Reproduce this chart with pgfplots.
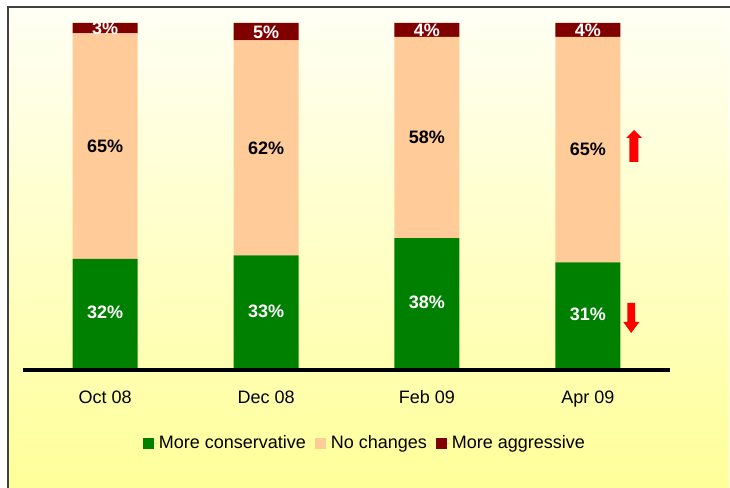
\documentclass[border=0pt]{standalone}
\usepackage{pgfplots}
\pgfplotsset{compat=1.18}
\usepackage{fontspec}
\setmainfont{Liberation Sans}
\definecolor{cons}{HTML}{008000}
\definecolor{noch}{HTML}{FFCC99}
\definecolor{aggr}{HTML}{800000}
\definecolor{bgtop}{HTML}{FFFFF5}
\definecolor{bgbot}{HTML}{FFFF99}
\definecolor{frame}{HTML}{404040}
\newcommand{\lblfont}{\fontsize{18bp}{21bp}\selectfont}
\begin{document}
\begin{tikzpicture}
\shade[top color=bgtop, bottom color=bgbot] (-15bp,363bp) rectangle (706bp,-118bp);
\draw[line width=1.5bp, frame] (-15bp,-118bp) -- (-15bp,363bp) -- (707bp,363bp);
\begin{axis}[
  scale only axis, width=647bp, height=347bp,
  ybar stacked, bar width=65bp,
  xmin=-0.51, xmax=3.51, ymin=0, ymax=100,
  axis y line=none, axis x line*=bottom,
  x axis line style={-, line width=3bp},
  every outer x axis line/.append style={-, line width=3bp},
  xtick={0,1,2,3}, xticklabels={Oct 08,Dec 08,Feb 09,Apr 09},
  major tick length=0pt,
  ytick=\empty,
  xticklabel style={font=\lblfont, anchor=base, yshift=-33bp},
  legend columns=3,
  legend style={draw=none, fill=none, at={(rel axis cs:0.5285,-0.2104)}, anchor=center,
    font=\lblfont, /tikz/every even column/.append style={column sep=7bp}},
  clip=false,
]
\addplot[fill=cons, draw=none, legend image code/.code={\fill[cons] (0bp,-5.5bp) rectangle (11bp,5.5bp); \path (0bp,0bp) -- (14bp,0bp);}]
  coordinates {(0,32) (1,33) (2,38) (3,31)};
\addplot[fill=noch, draw=none, legend image code/.code={\fill[noch] (0bp,-5.5bp) rectangle (11bp,5.5bp); \path (0bp,0bp) -- (14bp,0bp);}]
  coordinates {(0,65) (1,62) (2,58) (3,65)};
\addplot[fill=aggr, draw=none, legend image code/.code={\fill[aggr] (0bp,-5.5bp) rectangle (11bp,5.5bp); \path (0bp,0bp) -- (14bp,0bp);}]
  coordinates {(0,3) (1,5) (2,4) (3,4)};
\legend{More conservative,No changes,More aggressive}
\end{axis}
\begin{axis}[
  scale only axis, width=647bp, height=347bp,
  xmin=-0.51, xmax=3.51, ymin=0, ymax=100,
  hide axis, clip=false,
  nodes near coords, point meta=explicit symbolic,
]
\addplot[draw=none, mark=none, every node near coord/.style={anchor=center, font=\lblfont\bfseries, text=white}]
  coordinates {(0,16.5) [32\%] (1,17) [33\%] (2,19.5) [38\%] (3,16) [31\%]};
\addplot[draw=none, mark=none, every node near coord/.style={anchor=center, font=\lblfont\bfseries, text=black}]
  coordinates {(0,64.5) [65\%] (1,64) [62\%] (2,67) [58\%] (3,63.5) [65\%]};
\addplot[draw=none, mark=none, every node near coord/.style={anchor=center, font=\lblfont\bfseries, text=white}]
  coordinates {(0,98.4) [3\%] (1,97.3) [5\%] (2,97.8) [4\%] (3,97.8) [4\%]};
\end{axis}
\draw[line width=3bp, black] (0bp,0bp) -- (647bp,0bp);
% trend arrows
\fill[red] (606.3bp,208bp) -- (615.3bp,208bp) -- (615.3bp,232bp) -- (619bp,232bp) -- (611bp,240bp) -- (603bp,232bp) -- (606.3bp,232bp) -- cycle;
\fill[red] (604.3bp,67bp) -- (612bp,67bp) -- (612bp,48bp) -- (616.3bp,48bp) -- (608.2bp,37bp) -- (600.3bp,48bp) -- (604.3bp,48bp) -- cycle;
\pgfresetboundingbox
\useasboundingbox (-23bp,-118bp) rectangle (707bp,370bp);
\end{tikzpicture}
\end{document}
